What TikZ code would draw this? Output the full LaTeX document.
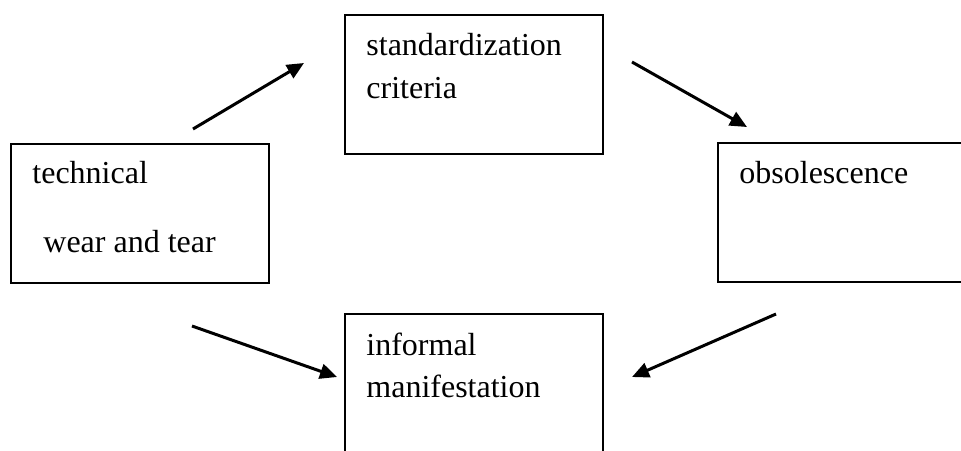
\documentclass[tikz,border=0pt]{standalone}
\usepackage{fontspec}
\setmainfont{Liberation Serif}
\usetikzlibrary{positioning,arrows.meta}

\begin{document}
\begin{tikzpicture}[x=0.5pt, y=-0.5pt, box/.style={draw, line width=1pt, minimum width=129pt, minimum height=69.5pt, inner sep=0pt}, txt/.style={anchor=base west, inner sep=0pt, font=\fontsize{16}{19}\selectfont}, >={Triangle[length=8.5pt, width=7.5pt]}]
\useasboundingbox (0,0) rectangle (961,450);
\node[box] (tech) at (140,213) {}; \node[box] (std) at (474,84.5) {};
\node[box] (obs) at (847,212.5) {}; \node[box] (inf) at (474,383.5) {};
\node[txt] (techa) at (32,183) {technical}; \node[txt] (techb) at (43,252) {wear and tear};
\node[txt] (stda) at (366,55) {standardization}; \node[txt] (stdb) at (366,98) {criteria};
\node[txt] (obsa) at (739,183) {obsolescence};
\node[txt] (infa) at (366,355) {informal}; \node[txt] (infb) at (366,397) {manifestation};
% free arrow ends between the boxes
\coordinate (techup) at (193,129); \coordinate (stdin) at (304,63);
\coordinate (stdout) at (632,62); \coordinate (obsin) at (747,127);
\coordinate (techdn) at (192,326); \coordinate (infin) at (337,377);
\coordinate (obsout) at (776,314); \coordinate (infin2) at (632,377);
\foreach \a/\b in {techup/stdin,stdout/obsin,techdn/infin,obsout/infin2}
  \draw[->, line width=1.5pt] (\a) -- (\b);
\end{tikzpicture}
\end{document}
